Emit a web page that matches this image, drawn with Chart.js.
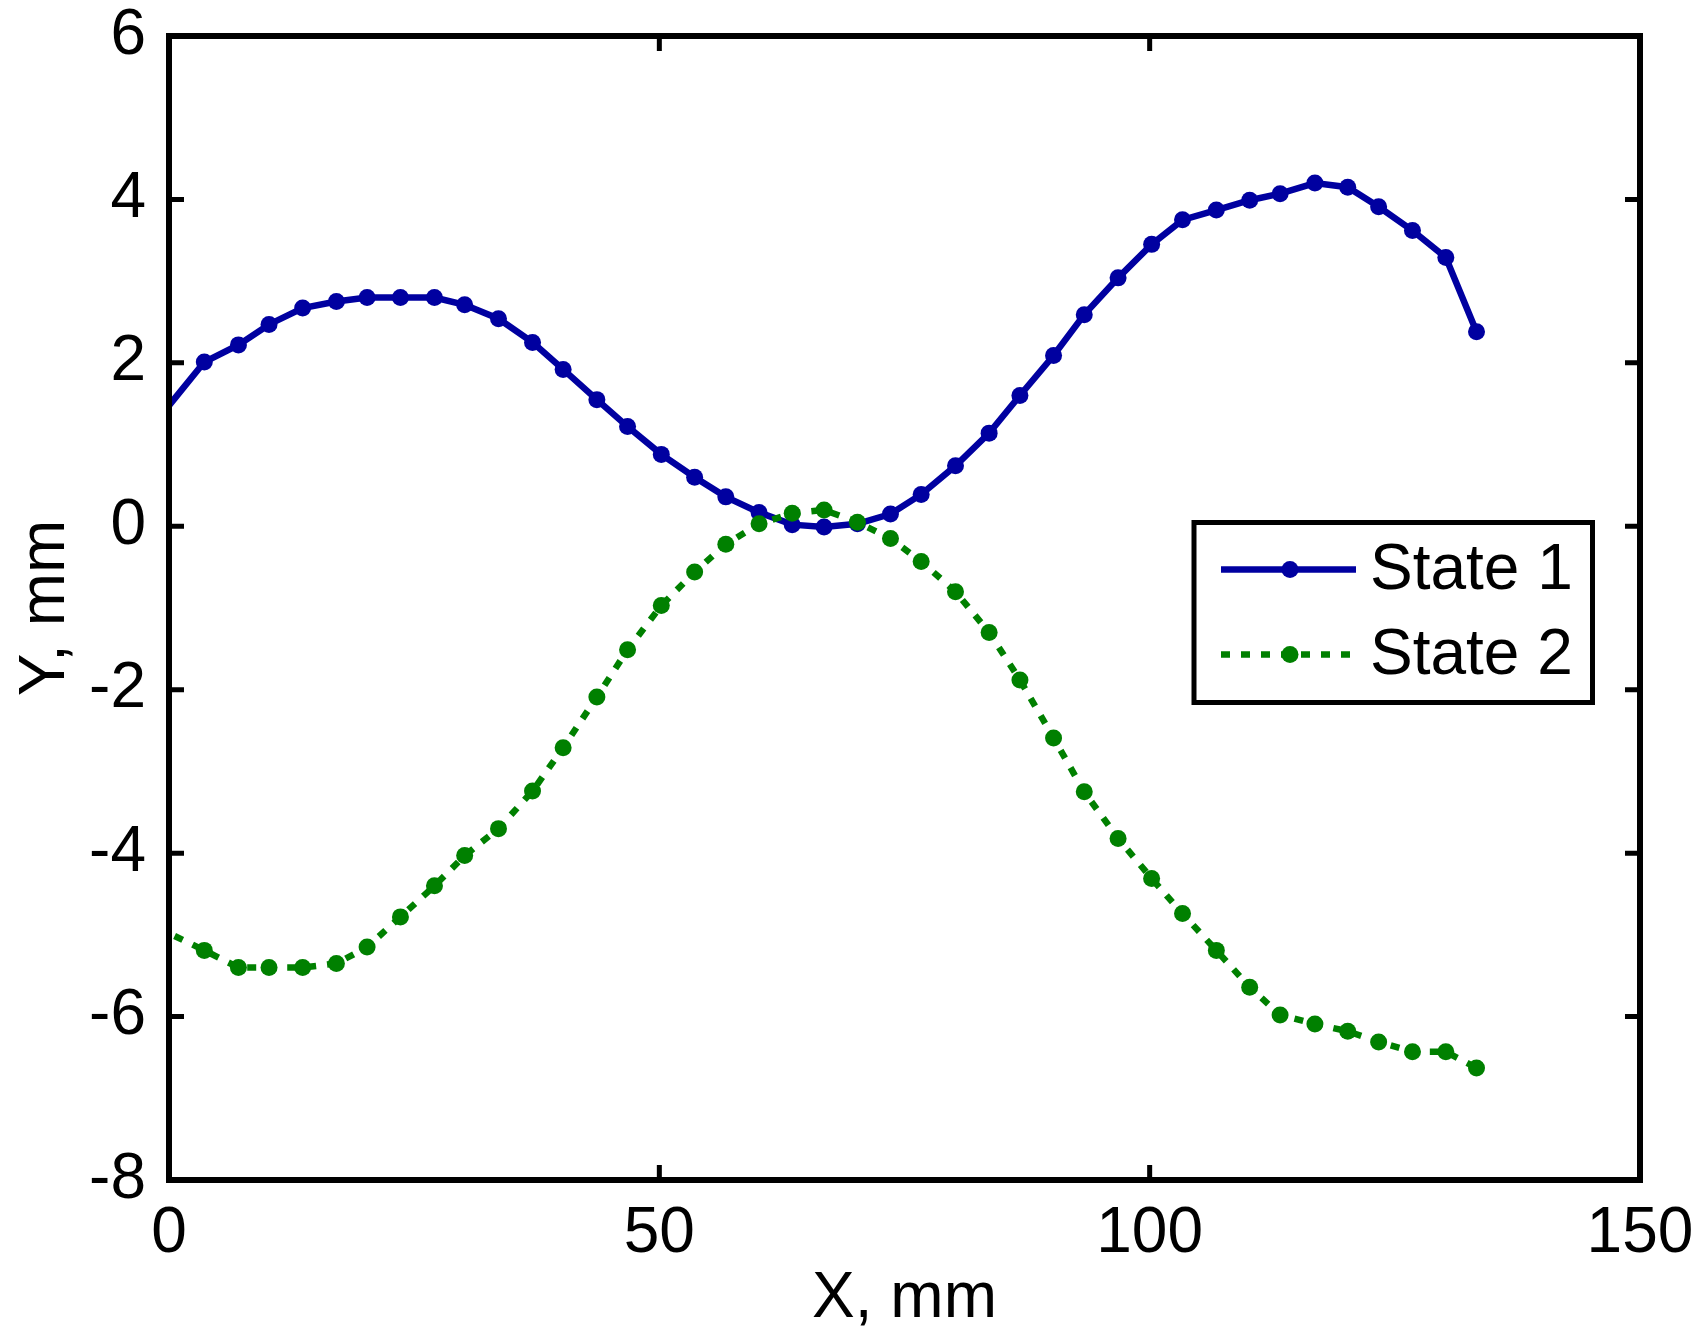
<!DOCTYPE html>
<html>
<head>
<meta charset="utf-8">
<script src="https://cdn.jsdelivr.net/npm/chart.js@4/dist/chart.umd.min.js"></script>
<style>
  html, body { margin: 0; padding: 0; background: #ffffff; }
  #wrap { width: 1708px; height: 1331px; }
</style>
</head>
<body>
<div id="wrap"><canvas id="c" width="1708" height="1331"></canvas></div>
<script>
// ---- data ----
const xValues = [-3.1, 3.6, 7.08, 10.2, 13.63, 17.07, 20.2, 23.6, 27.07, 30.15, 33.6, 37.07, 40.19, 43.63, 46.76, 50.2, 53.6, 56.78, 60.17, 63.55, 66.8, 70.2, 73.57, 76.7, 80.2, 83.63, 86.77, 90.2, 93.33, 96.78, 100.2, 103.35, 106.8, 110.2, 113.3, 116.85, 120.2, 123.35, 126.8, 130.2, 133.33];
const state1Y = [1.02, 2.01, 2.22, 2.47, 2.67, 2.75, 2.80, 2.80, 2.80, 2.71, 2.54, 2.25, 1.92, 1.55, 1.22, 0.88, 0.60, 0.36, 0.17, 0.02, -0.01, 0.03, 0.15, 0.39, 0.74, 1.14, 1.60, 2.09, 2.59, 3.04, 3.45, 3.75, 3.87, 3.99, 4.07, 4.20, 4.15, 3.91, 3.62, 3.29, 2.38];
const state2Y = [-4.80, -5.19, -5.40, -5.40, -5.40, -5.35, -5.15, -4.78, -4.40, -4.03, -3.70, -3.24, -2.71, -2.09, -1.51, -0.97, -0.56, -0.22, 0.03, 0.16, 0.20, 0.05, -0.15, -0.43, -0.80, -1.30, -1.88, -2.59, -3.25, -3.82, -4.31, -4.74, -5.19, -5.64, -5.98, -6.09, -6.18, -6.31, -6.43, -6.43, -6.63];
const seriesNames = ['State 1', 'State 2'];
const xTicks = [0, 50, 100, 150];
const yTicks = [-8, -6, -4, -2, 0, 2, 4, 6];
const xLabel = 'X, mm';
const yLabel = 'Y, mm';

const BLUE = 'rgb(0,0,160)';
const GREEN = 'rgb(0,128,0)';
const FONT = "'Liberation Sans', Arial, Helvetica, sans-serif";
const FS = 64;
const LW = 6.5;
const PR = 8.5;

const toPts = ys => xValues.map((x, i) => ({x: x, y: ys[i]}));

// box + inward ticks + legend
const framePlugin = {
  id: 'frame',
  afterDatasetsDraw(chart) {
    const {ctx, chartArea: a, scales} = chart;
    const xs = scales.x, ys = scales.y;
    ctx.save();
    ctx.strokeStyle = '#000';
    ctx.lineWidth = 5;
    ctx.lineCap = 'butt';
    const tl = 15;
    ctx.beginPath();
    xTicks.forEach(v => {
      const px = xs.getPixelForValue(v);
      if (v === xs.min || v === xs.max) return;
      ctx.moveTo(px, a.bottom); ctx.lineTo(px, a.bottom - tl);
      ctx.moveTo(px, a.top); ctx.lineTo(px, a.top + tl);
    });
    yTicks.forEach(v => {
      const py = ys.getPixelForValue(v);
      if (v === ys.min || v === ys.max) return;
      ctx.moveTo(a.left, py); ctx.lineTo(a.left + tl, py);
      ctx.moveTo(a.right, py); ctx.lineTo(a.right - tl, py);
    });
    ctx.stroke();
    ctx.lineWidth = 6;
    ctx.lineJoin = 'miter';
    ctx.strokeRect(a.left, a.top, a.right - a.left, a.bottom - a.top);

    // legend box
    const L = a.left + 1025, T = a.top + 486.5, R = a.left + 1423.5, B = a.top + 666.5;
    ctx.fillStyle = '#fff';
    ctx.fillRect(L, T, R - L, B - T);
    ctx.lineWidth = 5;
    ctx.strokeRect(L, T, R - L, B - T);
    const rows = [
      {name: seriesNames[0], color: BLUE, dash: [], y: T + 47},
      {name: seriesNames[1], color: GREEN, dash: [9, 11], y: T + 132}
    ];
    const lx0 = L + 27, lx1 = L + 162, mx = L + 96;
    rows.forEach(r => {
      ctx.strokeStyle = r.color;
      ctx.lineWidth = LW;
      ctx.setLineDash(r.dash);
      ctx.beginPath(); ctx.moveTo(lx0, r.y); ctx.lineTo(lx1, r.y); ctx.stroke();
      ctx.setLineDash([]);
      ctx.fillStyle = r.color;
      ctx.beginPath(); ctx.arc(mx, r.y, PR, 0, Math.PI * 2); ctx.fill();
      ctx.fillStyle = '#000';
      ctx.font = FS + 'px ' + FONT;
      ctx.textAlign = 'left';
      ctx.textBaseline = 'middle';
      ctx.fillText(r.name, L + 176, r.y + 1.5);
    });
    ctx.restore();
  }
};

new Chart(document.getElementById('c'), {
  type: 'scatter',
  data: {
    datasets: [
      {
        label: seriesNames[0], data: toPts(state1Y), showLine: true,
        borderColor: BLUE, backgroundColor: BLUE, borderWidth: LW,
        pointRadius: PR, pointBorderWidth: 0, pointBackgroundColor: BLUE,
        pointHoverRadius: PR, tension: 0, order: 1
      },
      {
        label: seriesNames[1], data: toPts(state2Y), showLine: true,
        borderColor: GREEN, backgroundColor: GREEN, borderWidth: LW, borderDash: [9, 11],
        borderCapStyle: 'butt',
        pointRadius: PR, pointBorderWidth: 0, pointBackgroundColor: GREEN,
        pointHoverRadius: PR, tension: 0, order: 0
      }
    ]
  },
  options: {
    responsive: false,
    animation: false,
    devicePixelRatio: 1,
    events: [],
    layout: { padding: 0 },
    plugins: { legend: { display: false }, tooltip: { enabled: false } },
    scales: {
      x: {
        type: 'linear', position: 'bottom', min: 0, max: 150,
        afterBuildTicks: s => { s.ticks = xTicks.map(v => ({value: v})); },
        ticks: { color: '#000', font: { family: FONT, size: FS, lineHeight: 1 }, padding: 14, maxRotation: 0 },
        grid: { display: false }, border: { display: false },
        title: { display: true, text: xLabel, color: '#000', font: { family: FONT, size: FS, lineHeight: 1 }, padding: { top: 0, bottom: 0 } },
        afterFit: s => { s.height = 151; s.paddingLeft = 0; s.paddingRight = 0; }
      },
      y: {
        type: 'linear', position: 'left', min: -8, max: 6,
        afterBuildTicks: s => { s.ticks = yTicks.map(v => ({value: v})); },
        ticks: { color: '#000', font: { family: FONT, size: FS, lineHeight: 1 }, padding: 15 },
        grid: { display: false }, border: { display: false },
        title: { display: true, text: yLabel, color: '#000', font: { family: FONT, size: FS, lineHeight: 1 }, padding: { top: 14, bottom: 0 } },
        afterFit: s => { s.width = 169; s.paddingTop = 0; s.paddingBottom = 0; }
      },
      xTop: {
        type: 'linear', position: 'top', min: 0, max: 150,
        ticks: { display: false }, grid: { display: false }, border: { display: false },
        afterFit: s => { s.height = 36; s.paddingLeft = 0; s.paddingRight = 0; }
      },
      yRight: {
        type: 'linear', position: 'right', min: -8, max: 6,
        ticks: { display: false }, grid: { display: false }, border: { display: false },
        afterFit: s => { s.width = 68; s.paddingTop = 0; s.paddingBottom = 0; }
      }
    }
  },
  plugins: [framePlugin]
});
</script>
</body>
</html>
